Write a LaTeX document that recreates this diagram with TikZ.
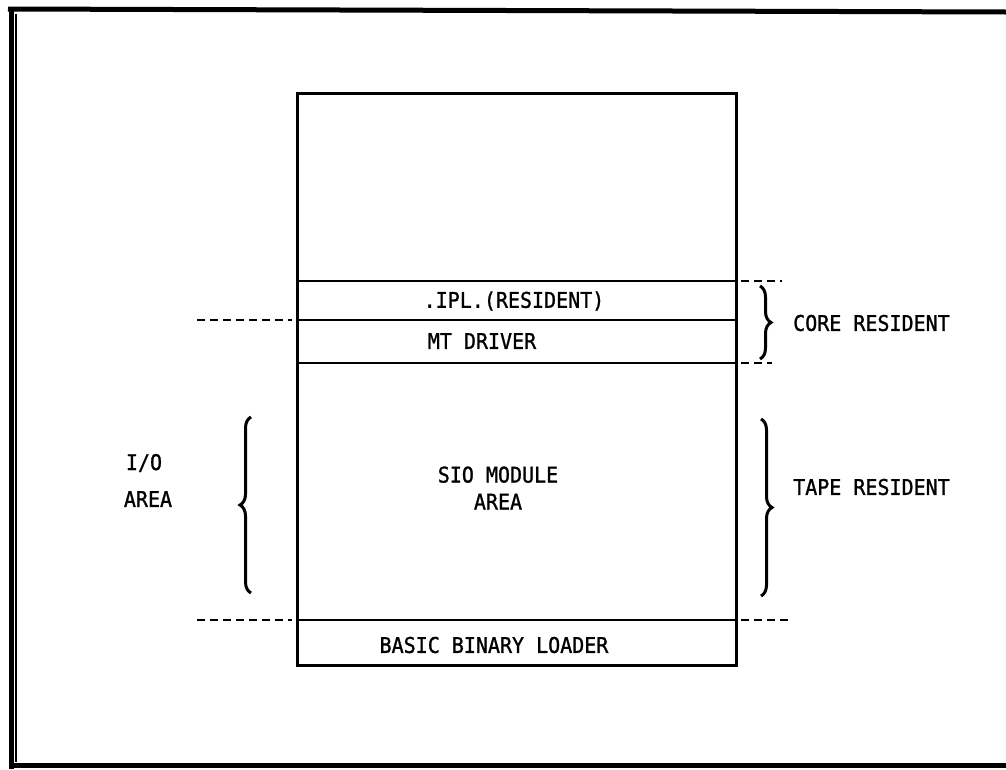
\documentclass[tikz,border=0pt]{standalone}
\usepackage{fontspec}
\newfontfamily\typefont[FakeBold=1.2]{DejaVu Sans Mono}
\usetikzlibrary{decorations.pathreplacing}
\tikzset{
  lbl/.style={font=\typefont\fontsize{20}{25}\selectfont, inner sep=0pt, yscale=1.08},
  wall/.style={line width=3pt},
  sep/.style={line width=2.6pt},
  dashline/.style={line width=2.8pt, dash pattern=on 8pt off 5pt},
  bracestyle/.style={line width=3pt, decorate, decoration={brace, amplitude=11pt}},
  frame/.style={line width=5pt},
}
\begin{document}
\begin{tikzpicture}[x=1pt,y=-1pt]
\useasboundingbox (0,0) rectangle (1006,769);
% frame
\draw[frame] (8,9) -- (1006,12);
\draw[frame] (11,9) -- (11,769);
\draw[line width=1.2pt] (16,14) -- (16,762);
\draw[frame] (11,765) -- (1006,765);
% main box
\coordinate (tl) at (297,93);
\coordinate (br) at (736,665);
\draw[wall] (tl) rectangle (br);
\coordinate (a1) at (297,281); \coordinate (a2) at (736,281);
\coordinate (b1) at (297,320); \coordinate (b2) at (736,320);
\coordinate (c1) at (297,363); \coordinate (c2) at (736,363);
\coordinate (d1) at (297,620); \coordinate (d2) at (736,620);
\draw[sep] (a1) -- (a2);
\draw[sep] (b1) -- (b2);
\draw[sep] (c1) -- (c2);
\draw[sep] (d1) -- (d2);
% dashed extensions
\coordinate (e1) at (197,320); \coordinate (e2) at (292,320);
\coordinate (f1) at (741,281); \coordinate (f2) at (782,281);
\coordinate (g1) at (741,363); \coordinate (g2) at (772,363);
\coordinate (h1) at (197,620); \coordinate (h2) at (292,620);
\coordinate (k1) at (741,620); \coordinate (k2) at (792,620);
\draw[dashline] (e1) -- (e2);
\draw[dashline] (f1) -- (f2);
\draw[dashline] (g1) -- (g2);
\draw[dashline] (h1) -- (h2);
\draw[dashline] (k1) -- (k2);
% labels in box
\node[lbl] (ipl) at (514,301) {.IPL.(RESIDENT)};
\node[lbl] (mt) at (482,341) {MT DRIVER};
\node[lbl, align=center] (sio) at (498,488) {SIO MODULE\\AREA};
\node[lbl] (bbl) at (494,645) {BASIC BINARY LOADER};
% braces
\coordinate (cb1) at (760,286); \coordinate (cb2) at (760,359);
\draw[bracestyle] (cb1) -- (cb2);
\coordinate (tb1) at (761,419); \coordinate (tb2) at (761,596);
\draw[bracestyle] (tb1) -- (tb2);
\coordinate (ib1) at (251,593); \coordinate (ib2) at (251,417);
\draw[bracestyle] (ib1) -- (ib2);
% side labels
\node[lbl, anchor=west] (core) at (793,323) {CORE RESIDENT};
\node[lbl, anchor=west] (tape) at (793,487) {TAPE RESIDENT};
\node[lbl] (io) at (144,463) {I/O};
\node[lbl] (ioa) at (148,499) {AREA};
\end{tikzpicture}
\end{document}
